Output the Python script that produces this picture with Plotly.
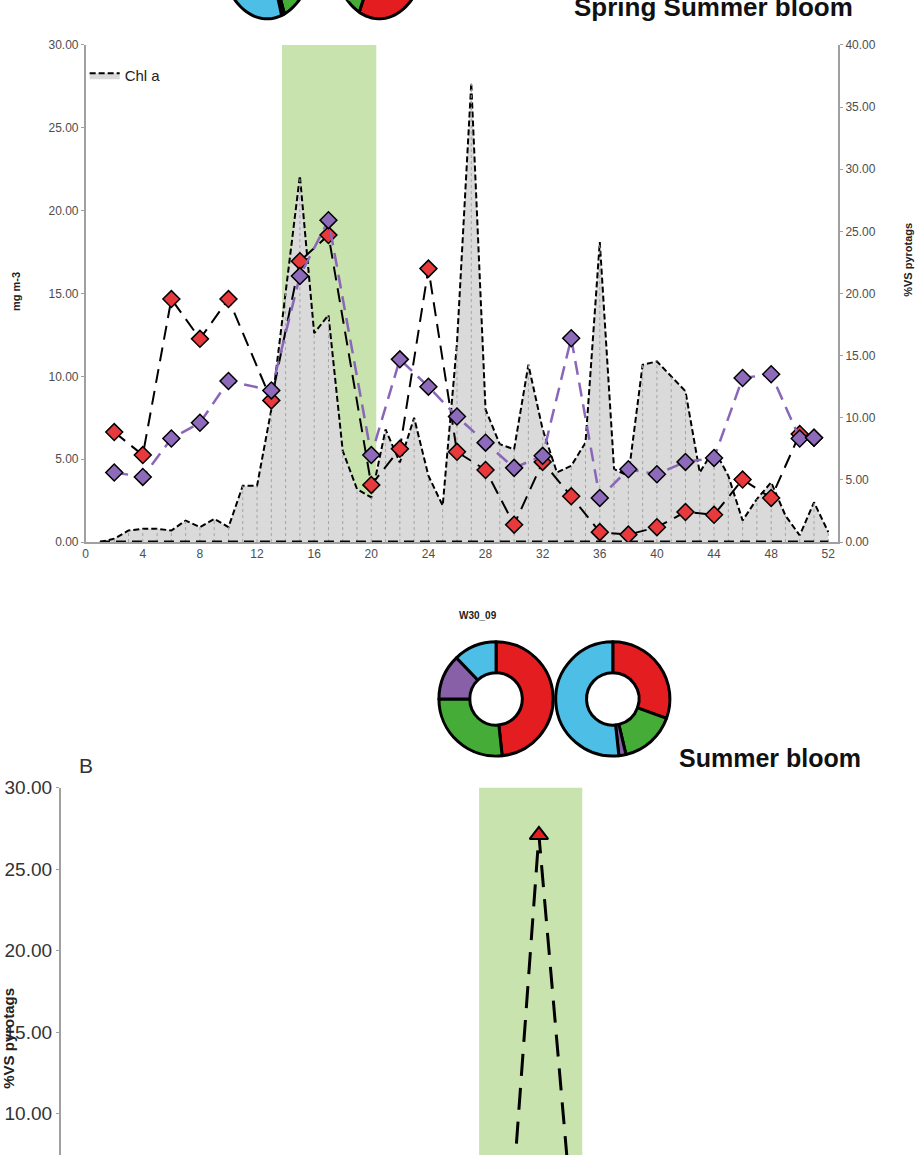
import math
import plotly.graph_objects as go

# ---------------- data ----------------
weeks = list(range(1, 53))
chl_a = [0.0, 0.2, 0.7, 0.8, 0.8, 0.7, 1.3, 0.9, 1.4, 0.9, 3.4, 3.4, 8.0, 15.0, 22.1,
         12.6, 13.7, 5.5, 3.2, 2.7, 6.8, 4.8, 7.5, 4.0, 2.2, 12.0, 27.7, 8.0, 5.9, 5.6,
         10.7, 6.8, 4.2, 4.6, 6.0, 18.1, 4.4, 4.0, 10.7, 10.9, 10.0, 9.1, 4.2, 5.6, 4.0,
         1.3, 2.6, 3.6, 1.6, 0.4, 2.4, 0.6]

pyro_weeks = [2, 4, 6, 8, 10, 13, 15, 17, 20, 22, 24, 26, 28, 30, 32, 34, 36, 38, 40,
              42, 44, 46, 48, 50, 51]
red_pct = [8.85, 7.0, 19.55, 16.35, 19.55, 11.4, 22.6, 24.7, 4.6, 7.5, 22.0, 7.26, 5.8,
           1.4, 6.45, 3.68, 0.8, 0.6, 1.2, 2.42, 2.2, 5.03, 3.55, 8.7, 8.4]
purple_pct = [5.6, 5.24, 8.33, 9.6, 12.96, 12.2, 21.4, 25.9, 7.0, 14.7, 12.5, 10.1, 8.0,
              5.97, 6.94, 16.4, 3.55, 5.86, 5.46, 6.45, 6.77, 13.2, 13.5, 8.33, 8.4]

x_ticks = list(range(0, 53, 4))
bloom_a = [13.75, 20.35]   # spring-summer bloom window (weeks)
bloom_b = [28.0, 34.9]     # summer bloom window (weeks)

b_weeks = [30, 32, 34]
b_pct = [1.9, 27.1, 6.0]

donut_groups = ["red", "green", "purple", "blue"]
donut_colors = ["#e41e20", "#45ad37", "#8760a8", "#4dbfe6"]
donut_w30_09 = [48.3, 26.7, 12.8, 12.2]
donut_w30_b = [30.5, 15.8, 2.0, 51.7]
donut_top_a = [30.0, 14.0, 1.0, 55.0]
donut_top_b = [57.0, 10.0, 5.0, 28.0]

W, H = 917, 1162
FN = "Liberation Sans Narrow, Arial Narrow, Liberation Sans, Arial"
FB = "Liberation Sans, Arial"
TICKC = "#4d4d4d"
AXC = "#a0a0a0"


def px(x):
    # target pixel x -> paper x
    return ((x - 4.5) / 0.9946) / W


def py(y):
    # target pixel y -> paper y
    return 1 - ((y - 9.2) / 0.983) / H


fig = go.Figure()

# ---------------- top panel ----------------
fig.add_trace(go.Scatter(
    x=weeks, y=chl_a, name="Chl a", mode="lines", fill="tozeroy",
    fillcolor="#dadada", line=dict(color="black", width=2, dash="6px,3px"),
    xaxis="x", yaxis="y", showlegend=True, hoverinfo="skip"))

drop_x, drop_y = [], []
for w, v in zip(weeks, chl_a):
    drop_x += [w, w, None]
    drop_y += [0, v, None]
fig.add_trace(go.Scatter(
    x=drop_x, y=drop_y, mode="lines", line=dict(color="#a3a3a3", width=1, dash="dot"),
    xaxis="x", yaxis="y", showlegend=False, hoverinfo="skip"))

fig.add_trace(go.Scatter(
    x=[weeks[0], weeks[-1]], y=[0, 0], mode="lines",
    line=dict(color="black", width=3, dash="10px,6px"),
    xaxis="x", yaxis="y", showlegend=False, hoverinfo="skip"))

fig.add_trace(go.Scatter(
    x=pyro_weeks, y=red_pct, mode="lines+markers",
    line=dict(color="black", width=2, dash="14px,8px"),
    marker=dict(symbol="diamond", size=13, color="#e8393d",
                line=dict(color="black", width=1.5)),
    xaxis="x", yaxis="y2", showlegend=False, hoverinfo="skip"))

fig.add_trace(go.Scatter(
    x=pyro_weeks, y=purple_pct, mode="lines+markers",
    line=dict(color="#8a66b8", width=2.5, dash="14px,8px"),
    marker=dict(symbol="diamond", size=13, color="#8e6bba",
                line=dict(color="black", width=1.5)),
    xaxis="x", yaxis="y2", showlegend=False, hoverinfo="skip"))

# ---------------- bottom panel ----------------
fig.add_trace(go.Scatter(
    x=b_weeks, y=b_pct, mode="lines+markers",
    line=dict(color="black", width=3, dash="22px,12px"),
    marker=dict(symbol="triangle-up", size=16, color="#e41e20",
                line=dict(color="black", width=2)),
    xaxis="x2", yaxis="y3", showlegend=False, hoverinfo="skip", cliponaxis=True))

# ---------------- donuts (pie traces) ----------------
R = 57
for cx, cy, vals in [(496.5, 696.5, donut_w30_09), (613.0, 696.5, donut_w30_b)]:
    fig.add_trace(go.Pie(
        values=vals, labels=donut_groups, sort=False, direction="clockwise",
        rotation=0, hole=0.46, textinfo="none", hoverinfo="skip",
        marker=dict(colors=donut_colors, line=dict(color="black", width=3)),
        domain=dict(x=[px(cx - R), px(cx + R)], y=[py(cy + R), py(cy - R)]),
        showlegend=False))

# cut-off donuts at the very top (ring paths, only their bottoms are visible)
shapes = []


def donut_paths(cx, cy, rx, ry, hole, values):
    total = sum(values)
    a = 0.0
    out = []
    for v, c in zip(values, donut_colors):
        a0, a1 = a, a + v / total * 360.0
        a = a1
        n = max(4, int((a1 - a0) / 3) + 2)
        ts = [math.radians(a0 + (a1 - a0) * i / (n - 1)) for i in range(n)]
        pts = [(cx + rx * math.sin(t), cy - ry * math.cos(t)) for t in ts]
        pts += [(cx + hole * rx * math.sin(t), cy - hole * ry * math.cos(t)) for t in reversed(ts)]
        path = "M " + " L ".join(f"{px(x):.5f},{py(y):.5f}" for x, y in pts) + " Z"
        out.append(dict(type="path", xref="paper", yref="paper", path=path,
                        fillcolor=c, line=dict(color="black", width=3), layer="above"))
    return out


shapes += donut_paths(268, -52, 47, 70, 0.46, donut_top_a)
shapes += donut_paths(380, -52, 47, 70, 0.46, donut_top_b)

# bloom windows
shapes.append(dict(type="rect", xref="x", yref="y domain", x0=bloom_a[0], x1=bloom_a[1],
                   y0=0, y1=1, fillcolor="#c8e3ae", line=dict(width=0), layer="below"))
shapes.append(dict(type="rect", xref="x2", yref="y3 domain", x0=bloom_b[0], x1=bloom_b[1],
                   y0=0, y1=1, fillcolor="#c8e3ae", line=dict(width=0), layer="below"))


def ann(text, x, y, size, family=FN, color="#111", angle=0):
    return dict(text=text, x=px(x), y=py(y), xref="paper", yref="paper",
                xanchor="center", yanchor="middle", showarrow=False, textangle=angle,
                font=dict(family=family, size=size, color=color))


annotations = [
    ann("<b>Spring Summer bloom</b>", 713, 6, 26),
    ann("<b>Summer bloom</b>", 770, 755, 25),
    ann("<b>W30_09</b>", 478, 613, 10, color="#222"),
    ann("B", 87, 763, 21, color="#333"),
    ann("<b>mg m-3</b>", 18, 290, 11, family=FB, color="#222", angle=-90),
    ann("<b>%VS pyrotags</b>", 908, 258, 11, family=FB, color="#222", angle=-90),
    ann("<b>%VS pyrotags</b>", 10, 1035, 15, family=FB, color="#222", angle=-90),
]

top_dom_x = [px(87), px(838)]
top_dom_y = [py(540), py(44)]
bot_dom_x = [px(62), px(848)]
bot_dom_y = [0, py(785)]
xr = [0, 52.7]
# visible part of panel B: value at the bottom window edge
b_bottom = 30 - ((H - (785 - 9.2) / 0.983) / ((1110 - 785) / 0.983 / 20))
b_right_bottom = 35 - ((H - (785 - 9.2) / 0.983) / ((1133 - 785) / 0.983 / 25))

fig.update_layout(
    width=W, height=H, margin=dict(l=0, r=0, t=0, b=0),
    paper_bgcolor="white", plot_bgcolor="white",
    shapes=shapes, annotations=annotations,
    legend=dict(x=px(86), y=py(58), xanchor="left", yanchor="top",
                bgcolor="rgba(0,0,0,0)", font=dict(family=FN, size=15, color="#222"),
                itemwidth=30),
    xaxis=dict(domain=top_dom_x, anchor="y", range=xr, tickvals=x_ticks,
               showline=True, linecolor=AXC, linewidth=1.5, showgrid=False, zeroline=False,
               ticks="", tickfont=dict(family=FN, size=12, color=TICKC)),
    xaxis3=dict(overlaying="x", anchor="y", side="top", range=xr, tickvals=x_ticks,
                showticklabels=False, showline=True, linecolor=AXC, linewidth=1.5,
                showgrid=False, zeroline=False, ticks="outside", ticklen=5, tickcolor="#777",
                minor=dict(ticks="outside", dtick=0.8, tick0=0, ticklen=3, tickcolor="#888")),
    yaxis=dict(domain=top_dom_y, anchor="x", range=[0, 30], dtick=5, tickformat=".2f",
               showline=True, linecolor=AXC, linewidth=1.5, showgrid=False, zeroline=False,
               ticks="outside", ticklen=3, tickcolor=AXC,
               tickfont=dict(family=FN, size=12, color=TICKC)),
    yaxis2=dict(overlaying="y", anchor="x", side="right", range=[0, 40], dtick=5,
                tickformat=".2f", showline=True, linecolor=AXC, linewidth=1.5,
                showgrid=False, zeroline=False, ticks="outside", ticklen=3, tickcolor=AXC,
                tickfont=dict(family=FN, size=12, color=TICKC)),
    xaxis2=dict(domain=bot_dom_x, anchor="y3", range=xr, showticklabels=False,
                showline=False, showgrid=False, zeroline=False, ticks=""),
    xaxis4=dict(overlaying="x2", anchor="y3", side="top", range=xr, showticklabels=False,
                showline=True, linecolor=AXC, linewidth=2, showgrid=False, zeroline=False,
                ticks=""),
    yaxis3=dict(domain=bot_dom_y, anchor="x2", range=[b_bottom, 30],
                tickvals=[10, 15, 20, 25, 30], tickformat=".2f",
                showline=True, linecolor=AXC, linewidth=1.5, showgrid=False, zeroline=False,
                ticks="outside", ticklen=3, tickcolor=AXC,
                tickfont=dict(family=FN, size=19, color="#333")),
    yaxis4=dict(overlaying="y3", anchor="x2", side="right", range=[b_right_bottom, 35],
                tickvals=[10, 15, 20, 25, 30, 35], showticklabels=False,
                showline=True, linecolor=AXC, linewidth=1.5, showgrid=False, zeroline=False,
                ticks="outside", ticklen=4, tickcolor=AXC),
)

fig.write_html("out.html")
